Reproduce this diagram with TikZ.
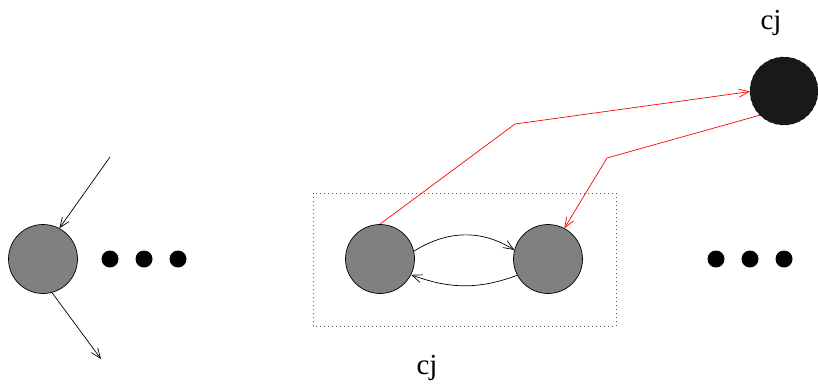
\documentclass[tikz,border=0pt]{standalone}
\usepackage{fontspec}
\setmainfont{Liberation Serif}
\usetikzlibrary{arrows.meta}
\tikzset{
  state/.style={circle,draw,line width=0.7pt,fill=black!50,minimum size=69pt,inner sep=0pt},
  dot/.style={circle,fill=black,minimum size=17pt,inner sep=0pt},
  arr/.style={line width=0.7pt,-{Straight Barb[length=10pt,width=8pt]}}
}
\begin{document}
\begin{tikzpicture}[x=1pt,y=1pt]
    \useasboundingbox (0,0) rectangle (818,384);
    \node [state] (L) at (43,125) {};
    \foreach \i/\x in {1/110,2/144,3/178} \node [dot] (ld\i) at (\x,125) {};
    \foreach \i/\x in {1/716,2/750,3/784} \node [dot] (rd\i) at (\x,125) {};
    \coordinate (lin) at (110,227);
    \coordinate (lout) at (101,25);
    \draw [arr] (lin) -- (L.62);
    \draw [arr] (L.-75) -- (lout);
    \draw [line width=1pt,dash pattern=on 1pt off 3pt,black!65] (313,191) rectangle (616,58);
    \node [state] (A) at (380,125) {};
    \node [state] (B) at (548,125) {};
    \draw [arr] (A.13) to [out=32,in=148] (B.165);
    \draw [arr] (B.208) to [out=200,in=340] (A.333);
    \node [circle,draw=black,dashed,thin,fill=black!90,minimum size=68pt,inner sep=0pt] (C) at (784,293) {};
    \node [font=\fontsize{29}{32}\selectfont] (ctop) at (771,361) {cj};
    \node [font=\fontsize{29}{32}\selectfont] (cbot) at (427,16) {cj};
    \coordinate (r1) at (515,260);
    \coordinate (r2) at (607,226);
    \draw [arr,red] (A.90) -- (r1) -- (C.181);
    \draw [arr,red] (C.225) -- (r2) -- (B.62);
\end{tikzpicture}
\end{document}
